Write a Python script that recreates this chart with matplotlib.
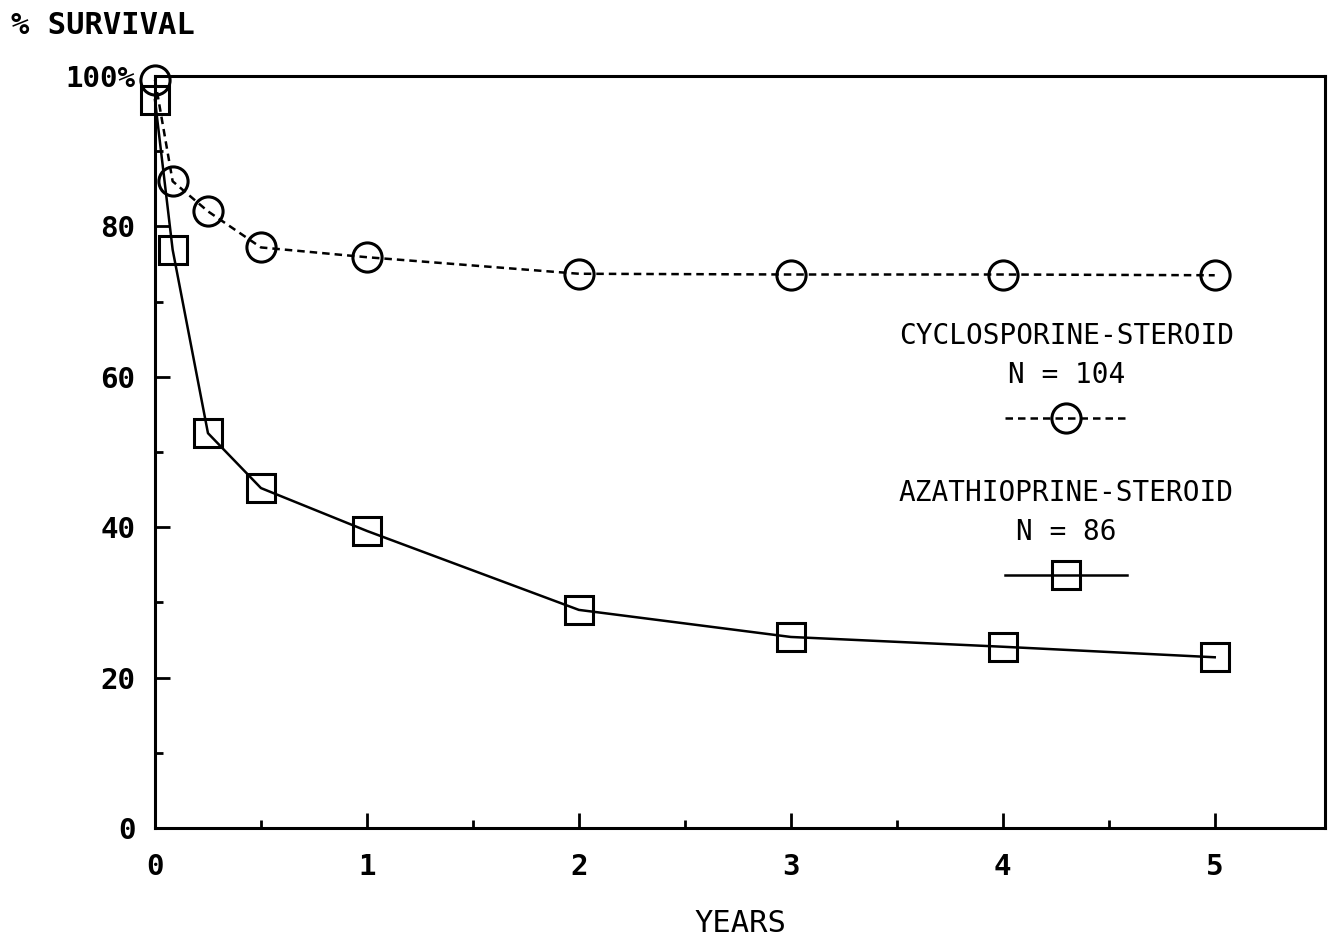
import numpy as np
import matplotlib.pyplot as plt
from matplotlib.ticker import FixedLocator, FixedFormatter

plt.rcParams['font.family'] = ['DejaVu Sans Mono']
plt.rcParams['font.weight'] = 'bold'

# survival by time after transplant (years)
years = [0, 1/12, 0.25, 0.5, 1, 2, 3, 4, 5]
cyclo = [99.5, 86.0, 82.0, 77.2, 75.9, 73.7, 73.6, 73.6, 73.5]
aza = [96.8, 76.9, 52.5, 45.2, 39.5, 29.0, 25.4, 24.1, 22.7]

cyclo_name = 'CYCLOSPORINE-STEROID'
cyclo_n = 104
aza_name = 'AZATHIOPRINE-STEROID'
aza_n = 86

x_major = [0, 1, 2, 3, 4, 5]
x_minor = [0.5, 1.5, 2.5, 3.5, 4.5]
y_major = [0, 20, 40, 60, 80, 100]
y_minor = [10, 30, 50, 70, 90]
y_labels = ['0', '20', '40', '60', '80', '100%']

fig = plt.figure(figsize=(13.28, 9.38), dpi=100)
ax = fig.add_axes([0.1167, 0.1173, 0.8810, 0.8017])

l1, = ax.plot(years, cyclo, color='black', lw=1.8, ls=(0, (3, 2)),
              marker='o', ms=21, mfc='none', mec='black', mew=2.2,
              clip_on=False)
l2, = ax.plot(years, aza, color='black', lw=1.8, ls='-',
              marker='s', ms=20.5, mfc='none', mec='black', mew=2.2,
              clip_on=False)

ax.set_xlim(0, 5.52)
ax.set_ylim(0, 100)
ax.xaxis.set_major_locator(FixedLocator(x_major))
ax.xaxis.set_minor_locator(FixedLocator(x_minor))
ax.yaxis.set_major_locator(FixedLocator(y_major))
ax.yaxis.set_minor_locator(FixedLocator(y_minor))
ax.yaxis.set_major_formatter(FixedFormatter(y_labels))

ax.tick_params(which='both', direction='in', width=2, labelsize=21)
ax.tick_params(which='major', length=11)
ax.tick_params(which='minor', length=6)
ax.tick_params(axis='x', pad=18)
ax.tick_params(axis='y', pad=14)
for s in ax.spines.values():
    s.set_linewidth(2.2)

ax.set_xlabel('YEARS', fontsize=22, labelpad=20)
fig.text(0.008, 0.973, '% SURVIVAL', fontsize=22, va='center', ha='left')

# two stacked legend blocks: name, N, then line sample
def block(handle, name, n, anchor):
    leg = ax.legend([handle], [''], title=f'{name}\nN = {n}',
                    title_fontproperties={'size': 20, 'weight': 'normal'},
                    prop={'size': 22}, loc='center', bbox_to_anchor=anchor,
                    frameon=False, handlelength=4.0, handletextpad=0,
                    labelspacing=0.55, borderpad=0, alignment='center')
    leg.get_title().set_multialignment('center')
    leg.get_title().set_linespacing(1.5)
    return leg

leg1 = block(l1, cyclo_name, cyclo_n, (0.779, 0.598))
ax.add_artist(leg1)
leg2 = block(l2, aza_name, aza_n, (0.779, 0.389))

fig.savefig('out.png', dpi=100)
